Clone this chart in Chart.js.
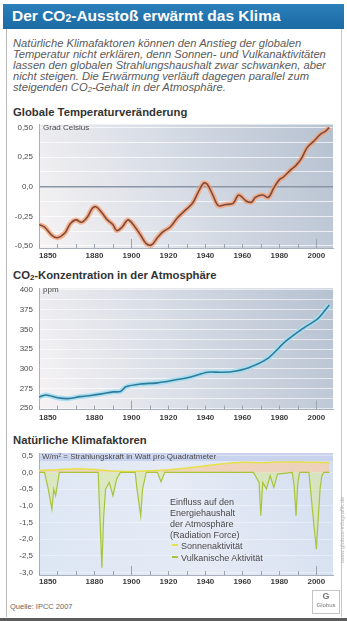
<!DOCTYPE html>
<html lang="de">
<head>
<meta charset="utf-8">
<script src="https://cdn.jsdelivr.net/npm/chart.js@4/dist/chart.umd.min.js"></script>
<style>
  html, body { margin: 0; padding: 0; background: #fff; }
  body { width: 347px; height: 621px; overflow: hidden; font-family: "Liberation Sans", Arial, sans-serif; }
  #page { position: relative; width: 347px; height: 621px; }
  .abs { position: absolute; white-space: nowrap; }
  #titlebar { left: 3px; top: 4px; width: 341px; height: 25px; background: linear-gradient(#2b80ba, #1b6aa4); }
  #title { left: 12px; top: 7px; color: #fff; font-weight: bold; font-size: 15.5px; line-height: 18px; }
  #title sub, .sec sub, .desc sub { font-size: 68%; vertical-align: -1px; line-height: 0; }
  #frame { left: 6px; top: 29px; width: 334px; height: 588px; border-left: 1px solid #b8b8b8; border-right: 1px solid #c8c8c8; }
  #bottombar { left: 0; top: 618px; width: 347px; height: 3px; background: #5c5c5c; }
  .desc { left: 13px; top: 37.5px; font-style: italic; font-size: 11.2px; line-height: 11px; color: #5a5a5a; }
  .sec { left: 13px; font-weight: bold; font-size: 11.3px; line-height: 13px; color: #333; }
  .unit { font-size: 8px; line-height: 10px; color: #4a4a4a; }
  .leg { left: 170px; font-size: 9px; line-height: 11px; color: #4a4a4a; }
  .dash { display: inline-block; width: 6px; height: 2px; vertical-align: 3px; margin-right: 3px; }
  canvas { position: absolute; left: 0; }
  #source { left: 10px; top: 602px; font-size: 7.5px; line-height: 10px; color: #666; }
  #credit { left: 342px; top: 530px; font-size: 6px; color: #b0b0b0; transform: translate(-50%, -50%) rotate(-90deg); }
  #logo { left: 312px; top: 590px; width: 26px; height: 22px; border: 1px solid #c4c4c4; font-size: 6px; line-height: 7px; color: #777; text-align: center; }
</style>
</head>
<body>
<div id="page">
  <div id="frame" class="abs"></div>
  <div id="titlebar" class="abs"></div>
  <div id="title" class="abs">Der CO<sub>2</sub>-Ausstoß erwärmt das Klima</div>

  <div class="abs desc">Natürliche Klimafaktoren können den Anstieg der globalen<br>Temperatur nicht erklären, denn Sonnen- und Vulkanaktivitäten<br>lassen den globalen Strahlungshaushalt zwar schwanken, aber<br>nicht steigen. Die Erwärmung verläuft dagegen parallel zum<br>steigenden CO<sub>2</sub>-Gehalt in der Atmosphäre.</div>

  <div class="abs sec" style="top:105.5px">Globale Temperaturveränderung</div>
  <div class="abs sec" style="top:269px">CO<sub>2</sub>-Konzentration in der Atmosphäre</div>
  <div class="abs sec" style="top:433.5px">Natürliche Klimafaktoren</div>

  <canvas id="cTemp" width="347" height="145" style="top:118px;width:347px;height:145px"></canvas>
  <canvas id="cCo2" width="347" height="145" style="top:283px;width:347px;height:145px"></canvas>
  <canvas id="cNat" width="347" height="145" style="top:447px;width:347px;height:145px"></canvas>

  <div class="abs unit" style="left:43px;top:123px">Grad Celsius</div>
  <div class="abs unit" style="left:43px;top:285px">ppm</div>
  <div class="abs unit" style="left:42px;top:452px">W/m² = Strahlungskraft in Watt pro Quadratmeter</div>

  <div class="abs leg" style="top:496.5px">Einfluss auf den</div>
  <div class="abs leg" style="top:507.5px">Energiehaushalt</div>
  <div class="abs leg" style="top:518.5px">der Atmosphäre</div>
  <div class="abs leg" style="top:529.5px">(Radiation Force)</div>
  <div class="abs leg" style="top:540.5px;left:172px"><span class="dash" style="background:#e6e04a"></span>Sonnenaktivität</div>
  <div class="abs leg" style="top:553px;left:172px"><span class="dash" style="background:#a9c43c"></span>Vulkanische Aktivität</div>

  <div id="credit" class="abs">www.globus-infografik.de</div>
  <div id="source" class="abs">Quelle: IPCC 2007</div>
  <div id="logo" class="abs"><b style="font-size:9px;line-height:11px">G</b><br>Globus</div>
  <div id="bottombar" class="abs"></div>
</div>

<script>
// ---- data ----
const xTickYears = [1850, 1880, 1900, 1920, 1940, 1960, 1980, 2000];
const xMin = 1850;
const xMax = 2009;

// global temperature change, degrees Celsius
const tempYears  = [1850, 1853, 1857, 1860, 1864, 1867, 1870, 1873, 1876, 1879, 1881, 1884, 1887, 1890, 1892, 1895, 1898, 1901, 1905, 1908, 1911, 1914, 1917, 1921, 1925, 1929, 1933, 1936, 1939, 1941, 1944, 1947, 1951, 1955, 1958, 1962, 1965, 1967, 1971, 1974, 1977, 1980, 1982, 1986, 1989, 1992, 1995, 1999, 2002, 2005, 2007];
const tempValues = [-0.32, -0.34, -0.41, -0.43, -0.39, -0.31, -0.28, -0.30, -0.26, -0.18, -0.17, -0.22, -0.28, -0.32, -0.37, -0.34, -0.28, -0.32, -0.41, -0.48, -0.49, -0.43, -0.38, -0.34, -0.26, -0.20, -0.14, -0.05, 0.03, 0.02, -0.07, -0.16, -0.15, -0.14, -0.07, -0.12, -0.13, -0.09, -0.07, -0.09, -0.01, 0.06, 0.08, 0.14, 0.18, 0.24, 0.33, 0.39, 0.44, 0.47, 0.50];
const tempTickValues = [0.5, 0.25, 0, -0.25, -0.5];
const tempTickLabels = ['0,50', '0,25', '0,0', '-0,25', '-0,50'];

// CO2 concentration, ppm
const co2Years  = [1850, 1854, 1860, 1866, 1872, 1878, 1884, 1890, 1894, 1897, 1905, 1914, 1923, 1932, 1941, 1948, 1954, 1963, 1974, 1983, 1992, 2001, 2007];
const co2Values = [264, 266.5, 263, 262, 264.5, 266, 268, 270.5, 271, 277, 280.5, 282, 285.5, 289.5, 295.5, 295.5, 296, 301, 313.5, 334, 350, 364, 381];
const co2TickValues = [400, 375, 350, 325, 300, 275, 250];
const co2TickLabels = ['400', '375', '350', '325', '300', '275', '250'];

// natural forcing, W/m²
const solarYears  = [1850, 1860, 1870, 1880, 1890, 1900, 1910, 1920, 1930, 1940, 1950, 1960, 1970, 1980, 1990, 2000, 2007];
const solarValues = [0.06, 0.08, 0.11, 0.09, 0.04, 0.03, 0.05, 0.08, 0.13, 0.20, 0.26, 0.30, 0.29, 0.31, 0.31, 0.30, 0.29];
const volcYears  = [1850, 1853, 1855, 1857, 1858, 1859, 1861, 1882, 1884, 1885, 1886, 1888, 1890, 1892, 1894, 1902, 1903, 1905, 1906, 1908, 1914, 1916, 1918, 1966, 1969, 1970, 1971, 1973, 1975, 1977, 1979, 1987, 1988, 1989, 1990, 1991, 1996, 1998, 2000, 2001, 2002, 2003, 2004, 2007];
const volcValues = [0, 0, -0.5, -1.1, -0.5, -0.7, 0, 0, -2.85, -1.3, -0.5, -0.3, -0.7, -0.2, 0, 0, -0.5, -1.3, -0.5, 0, 0, -0.28, 0, 0, -0.3, -1.3, -0.3, -0.5, -0.1, -0.45, -0.05, 0, -0.4, -1.3, -0.3, 0, 0, -1.2, -2.3, -1.4, -0.5, -0.1, 0, 0];
const natTickValues = [0.5, 0, -0.5, -1, -1.5, -2, -2.5, -3];
const natTickLabels = ['0,5', '0,0', '-0,5', '-1,0', '-1,5', '-2,0', '-2,5', '-3,0'];

// ---- drawing ----
Chart.defaults.font.family = '"Liberation Sans", Arial, sans-serif';
const PLOT_LEFT = 39, PLOT_RIGHT = 333, CANVAS_H = 145;

const pairs = (xs, ys) => xs.map((x, i) => ({ x: x, y: ys[i] }));

// plot background and the small decade marks along the time axis
const plotDecor = {
  id: 'plotDecor',
  beforeDraw(chart, args, opts) {
    const { ctx, chartArea: a } = chart;
    ctx.save();
    const g = ctx.createLinearGradient(a.left, a.bottom, a.right, a.top);
    opts.stops.forEach(s => g.addColorStop(s[0], s[1]));
    ctx.fillStyle = g;
    ctx.fillRect(a.left, a.top, a.right - a.left, a.bottom - a.top);
    if (opts.band) {
      ctx.fillStyle = opts.band.color;
      const y0 = chart.scales.y.getPixelForValue(opts.band.from);
      ctx.fillRect(a.left, a.top, a.right - a.left, y0 - a.top);
    }
    ctx.restore();
  },
  beforeDatasetsDraw(chart, args, opts) {
    const { ctx, chartArea: a, scales: { x } } = chart;
    ctx.save();
    ctx.strokeStyle = opts.tickColor;
    ctx.lineWidth = 1;
    for (let yr = 1850; yr <= 2000; yr += 10) {
      const px = Math.round(x.getPixelForValue(yr)) + 0.5;
      const len = yr % 100 === 0 ? 9 : 4;
      ctx.beginPath();
      ctx.moveTo(px, a.bottom);
      ctx.lineTo(px, a.bottom - len);
      ctx.stroke();
    }
    ctx.restore();
  }
};

function makeChart(id, cfg) {
  const xAxisH = CANVAS_H - cfg.plotBottom;
  const labelOf = (v) => {
    const i = cfg.tickValues.findIndex(t => Math.abs(t - v) < 1e-9);
    return i >= 0 ? cfg.tickLabels[i] : '';
  };
  return new Chart(document.getElementById(id), {
    type: 'line',
    data: { datasets: cfg.datasets },
    plugins: [plotDecor],
    options: {
      responsive: false,
      animation: false,
      events: [],
      layout: { padding: { top: cfg.plotTop, left: 0, right: 347 - PLOT_RIGHT, bottom: 0 } },
      elements: { point: { radius: 0 } },
      plugins: {
        legend: { display: false },
        tooltip: { enabled: false },
        plotDecor: { stops: cfg.bg, band: cfg.band, tickColor: cfg.tickColor }
      },
      scales: {
        x: {
          type: 'linear',
          min: xMin,
          max: xMax,
          afterBuildTicks: (s) => { s.ticks = xTickYears.concat([xMax]).map(v => ({ value: v })); },
          afterFit: (s) => { s.height = xAxisH; s.paddingLeft = 0; s.paddingRight = 0; },
          grid: { display: false, drawTicks: false },
          border: { display: true, color: cfg.axisColor, width: 1 },
          ticks: {
            autoSkip: false, maxRotation: 0, align: 'inner', padding: cfg.xPad,
            color: '#3a3a3a', font: { size: 8, weight: 'bold' },
            callback: (v) => (xTickYears.includes(v) ? String(v) : '')
          }
        },
        y: {
          min: cfg.yMin,
          max: cfg.yMax,
          afterBuildTicks: (s) => { s.ticks = cfg.gridValues.map(v => ({ value: v })); },
          afterFit: (s) => { s.width = PLOT_LEFT; s.paddingTop = 0; s.paddingBottom = 0; },
          grid: {
            drawTicks: false,
            color: (c) => (c.tick && Math.abs(c.tick.value) < 1e-9 && cfg.zeroLine ? cfg.zeroLine : cfg.gridColor),
            lineWidth: (c) => (c.tick && Math.abs(c.tick.value) < 1e-9 && cfg.zeroLine ? 1.5 : 1)
          },
          border: { display: true, color: cfg.axisColor, width: 1 },
          ticks: {
            autoSkip: false, padding: 6, color: '#4a4a4a', font: { size: 8 },
            callback: (v) => labelOf(v)
          }
        }
      }
    }
  });
}

// Globale Temperaturveränderung (dark line on top of a soft orange halo)
makeChart('cTemp', {
  plotTop: 6.5, plotBottom: 130, xPad: 3,
  yMin: -0.517, yMax: 0.525,
  gridValues: [0.5, 0.375, 0.25, 0.125, 0, -0.125, -0.25, -0.375, -0.5],
  tickValues: tempTickValues, tickLabels: tempTickLabels,
  gridColor: 'rgba(255,255,255,0.7)', zeroLine: '#8a95a6', axisColor: '#a7b0bc', tickColor: '#9aa3b0',
  bg: [[0, '#f6f3f3'], [0.45, '#d9dee7'], [1, '#b6c1d0']],
  datasets: [
    { order: 2, data: pairs(tempYears, tempValues), borderColor: 'rgba(247,160,112,0.75)', borderWidth: 5, tension: 0.35, fill: false },
    { order: 1, data: pairs(tempYears, tempValues), borderColor: '#7e4a3e', borderWidth: 1.6, tension: 0.35, fill: false }
  ]
});

// CO2-Konzentration (teal line on a light cyan halo)
makeChart('cCo2', {
  plotTop: 5.4, plotBottom: 126.6, xPad: 3,
  yMin: 248, yMax: 402,
  gridValues: [400, 387.5, 375, 362.5, 350, 337.5, 325, 312.5, 300, 287.5, 275, 262.5, 250],
  tickValues: co2TickValues, tickLabels: co2TickLabels,
  gridColor: 'rgba(255,255,255,0.6)', zeroLine: null, axisColor: '#a7b0bc', tickColor: '#9aa3b0',
  bg: [[0, '#f6f3f4'], [0.45, '#d9dee7'], [1, '#b6c1d0']],
  datasets: [
    { order: 2, data: pairs(co2Years, co2Values), borderColor: 'rgba(165,222,240,0.9)', borderWidth: 5, tension: 0.25, fill: false },
    { order: 1, data: pairs(co2Years, co2Values), borderColor: '#2f7a9a', borderWidth: 1.6, tension: 0.25, fill: false }
  ]
});

// Natürliche Klimafaktoren
makeChart('cNat', {
  plotTop: 6, plotBottom: 128, xPad: 2,
  yMin: -3.07, yMax: 0.58,
  gridValues: [0.5, 0, -0.5, -1, -1.5, -2, -2.5, -3],
  tickValues: natTickValues, tickLabels: natTickLabels,
  gridColor: 'rgba(255,255,255,0.35)', zeroLine: null, axisColor: '#a7b0bc', tickColor: '#9aa3b0',
  bg: [[0, '#dce6f4'], [0.5, '#e6ebf5'], [1, '#d3def0']],
  band: { from: 0.34, color: '#c9d3ee' },
  datasets: [
    { order: 2, data: pairs(solarYears, solarValues), borderColor: '#e6e04a', borderWidth: 1.5, tension: 0.3, fill: 'origin', backgroundColor: 'rgba(244,204,168,0.75)' },
    { order: 1, data: pairs(volcYears, volcValues), borderColor: '#a9c43c', borderWidth: 1.2, tension: 0, fill: 'origin', backgroundColor: 'rgba(214,232,150,0.55)' }
  ]
});
</script>
</body>
</html>
